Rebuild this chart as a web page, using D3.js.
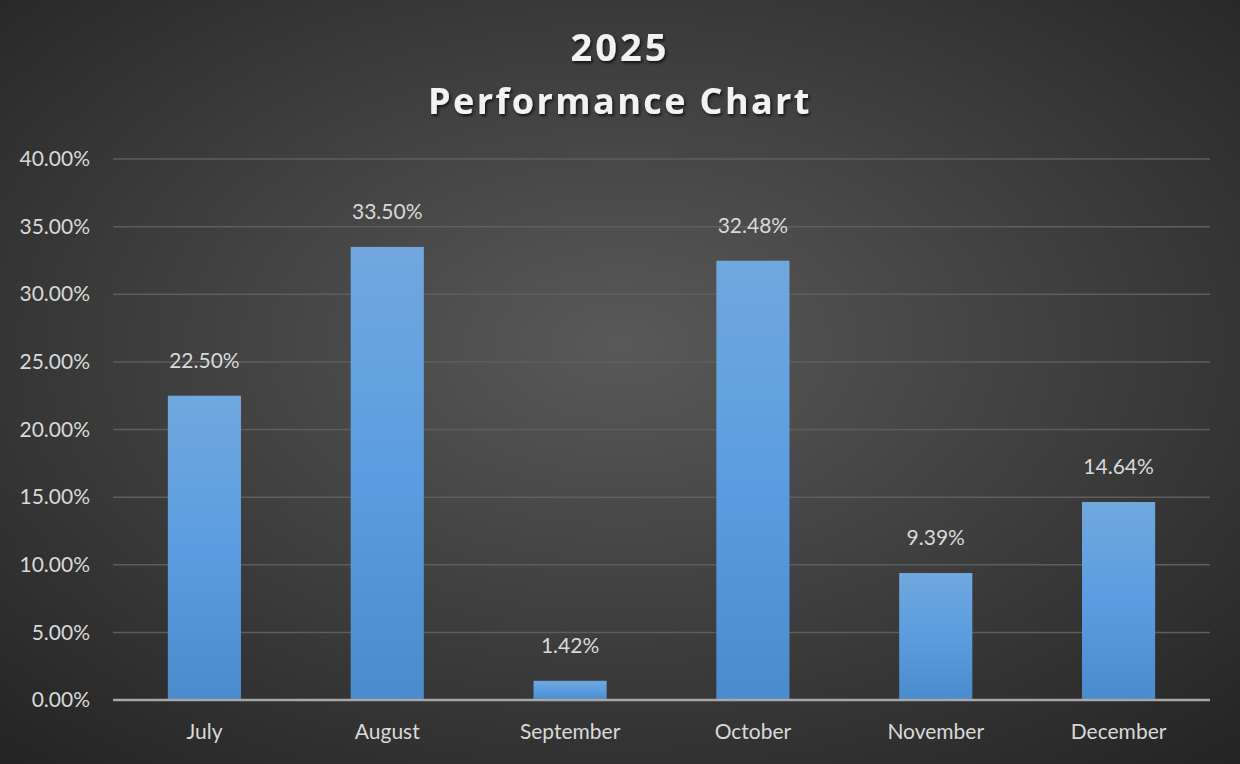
<!DOCTYPE html>
<html><head><meta charset="utf-8">
<script src="https://cdn.jsdelivr.net/npm/d3@7"></script>
<style>
html,body{margin:0;padding:0;background:#333;}
svg{display:block;}
</style></head>
<body>
<svg id="chart" width="1240" height="764"></svg>
<script>
const categories = ["July","August","September","October","November","December"];
const values = [0.2250, 0.3350, 0.0142, 0.3248, 0.0939, 0.1464];
const yTicks = [0,0.05,0.10,0.15,0.20,0.25,0.30,0.35,0.40];
const titleLines = ["2025","Performance Chart"];

(function(){
const W=1240,H=764;
const svg=d3.select("#chart");
const defs=svg.append("defs");
const bg=defs.append("radialGradient").attr("id","bg").attr("cx","50%").attr("cy","45%").attr("r","75%")
  .attr("gradientUnits","objectBoundingBox");
bg.append("stop").attr("offset","0%").attr("stop-color","#595959");
bg.append("stop").attr("offset","100%").attr("stop-color","#232323");
const bar=defs.append("linearGradient").attr("id","bar").attr("x1",0).attr("y1",0).attr("x2",0).attr("y2",1);
bar.append("stop").attr("offset","0%").attr("stop-color","#70a8de");
bar.append("stop").attr("offset","50%").attr("stop-color","#5b9de0");
bar.append("stop").attr("offset","100%").attr("stop-color","#4a8bcb");
const sh=defs.append("filter").attr("id","ts").attr("x","-10%").attr("y","-10%").attr("width","120%").attr("height","130%");
sh.append("feDropShadow").attr("dx",1.5).attr("dy",2).attr("stdDeviation",1.5).attr("flood-color","#000").attr("flood-opacity",0.7);

svg.append("rect").attr("width",W).attr("height",H).attr("fill","url(#bg)");

const pLeft=113,pRight=1210,pTop=159,pBottom=700;
const x=d3.scaleBand().domain(categories).range([pLeft,pRight]).paddingInner(0.6).paddingOuter(0.3);
const y=d3.scaleLinear().domain([0,0.40]).range([pBottom,pTop]);
const font="Lato, 'Open Sans', sans-serif";
const pct=d3.format(".2%");

svg.append("g").selectAll("line").data(yTicks.filter(d=>d>0)).join("line")
  .attr("x1",pLeft).attr("x2",pRight).attr("y1",d=>y(d)).attr("y2",d=>y(d))
  .attr("stroke","#5e5e5e").attr("stroke-width",1.5);

const ya=svg.append("g").attr("transform",`translate(${pLeft},0)`)
  .call(d3.axisLeft(y).tickValues(yTicks).tickFormat(pct).tickSize(0).tickPadding(23));
ya.select(".domain").remove();
ya.selectAll("text").attr("fill","#d9d9d9").attr("font-size",21).attr("font-family",font);

svg.append("g").selectAll("rect").data(values).join("rect")
  .attr("x",(d,i)=>x(categories[i])).attr("width",x.bandwidth())
  .attr("y",d=>y(d)).attr("height",d=>pBottom-y(d))
  .attr("fill","url(#bar)");

svg.append("line").attr("x1",pLeft).attr("x2",pRight).attr("y1",pBottom).attr("y2",pBottom)
  .attr("stroke","#a6a6a6").attr("stroke-width",2.5);

const xa=svg.append("g").attr("transform",`translate(0,${pBottom})`)
  .call(d3.axisBottom(x).tickSize(0).tickPadding(24));
xa.select(".domain").remove();
xa.selectAll("text").attr("fill","#d9d9d9").attr("font-size",21).attr("font-family",font);

svg.append("g").selectAll("text").data(values).join("text")
  .attr("x",(d,i)=>x(categories[i])+x.bandwidth()/2).attr("y",d=>y(d)-28)
  .attr("text-anchor","middle").attr("fill","#d9d9d9").attr("font-size",21).attr("font-family",font)
  .text(d=>pct(d));

svg.append("g").selectAll("text").data(titleLines).join("text")
  .attr("x",620).attr("y",(d,i)=>61+i*53).attr("text-anchor","middle")
  .attr("fill","#f2f2f2").attr("font-size",(d,i)=>i===0?38:36).attr("font-weight","bold")
  .attr("letter-spacing",(d,i)=>i===0?3:2.4).attr("font-family","'Open Sans', sans-serif")
  .attr("filter","url(#ts)").text(d=>d);
})();
</script>
</body></html>
